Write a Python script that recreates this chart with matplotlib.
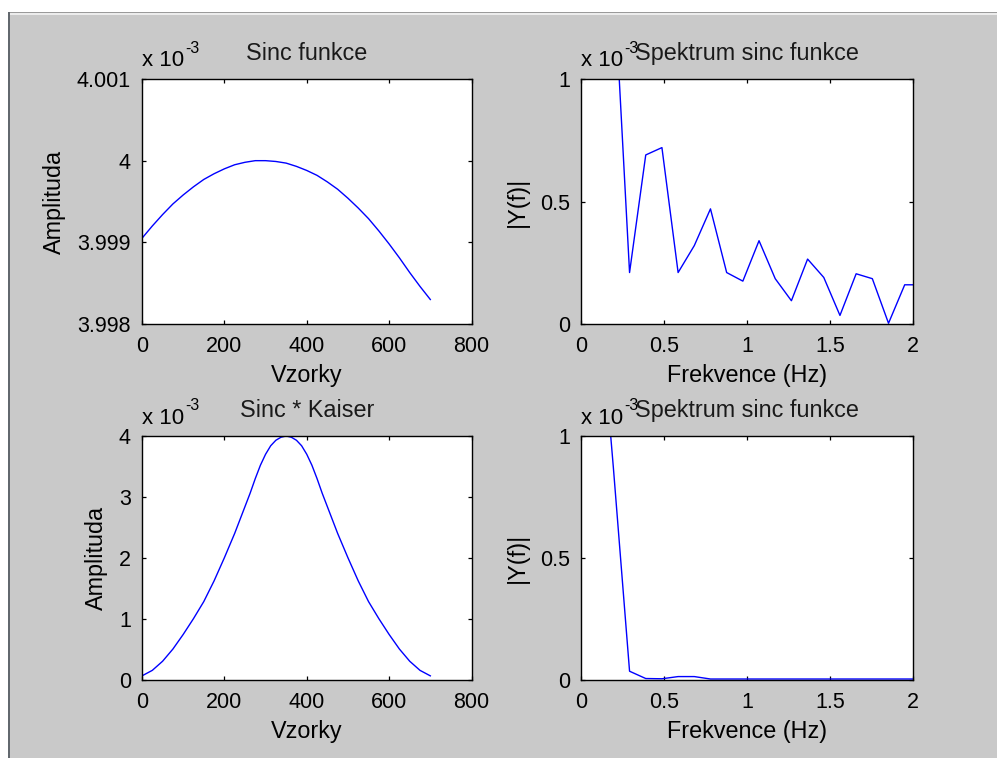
import matplotlib
matplotlib.use("Agg")
import matplotlib.pyplot as plt
from matplotlib.patches import Rectangle
from matplotlib.ticker import FixedLocator, FormatStrFormatter

plt.rcParams['font.family'] = ['Liberation Sans', 'DejaVu Sans']
plt.rcParams['mathtext.fontset'] = 'custom'
plt.rcParams['mathtext.rm'] = 'Liberation Sans'

# ---- data (amplitudes in units of 1e-3) ----
sinc_n = [0, 25, 50, 75, 100, 125, 150, 175, 200, 225, 250, 275, 300, 325, 350,
          375, 400, 425, 450, 475, 500, 525, 550, 575, 600, 625, 650, 675, 700]
sinc_amp = [3.99905, 3.99920, 3.99934, 3.99947, 3.99958, 3.99968, 3.99977, 3.99984,
            3.99990, 3.99995, 3.99998, 4.00000, 4.00000, 3.99999, 3.99997, 3.99993,
            3.99988, 3.99982, 3.99974, 3.99965, 3.99954, 3.99942, 3.99929, 3.99914,
            3.99898, 3.99881, 3.99863, 3.99846, 3.99830]

kaiser_n = [0, 25, 50, 75, 100, 125, 150, 175, 200, 225, 250, 262.5, 275, 287.5, 300,
            312.5, 325, 337.5, 350, 362.5, 375, 387.5, 400, 412.5, 425, 437.5, 450,
            475, 500, 525, 550, 575, 600, 625, 650, 675, 700]
kaiser_amp = [0.06, 0.15, 0.30, 0.50, 0.74, 1.00, 1.28, 1.62, 2.00, 2.40, 2.84, 3.06, 3.30,
              3.52, 3.70, 3.84, 3.93, 3.98, 4.00, 3.98, 3.93, 3.84, 3.70, 3.52, 3.30, 3.06,
              2.84, 2.40, 2.00, 1.62, 1.28, 1.00, 0.74, 0.50, 0.30, 0.15, 0.06]

freq = [0.0, 0.0975, 0.195, 0.2925, 0.39, 0.4875, 0.585, 0.6825, 0.78, 0.8775, 0.975,
        1.0725, 1.17, 1.2675, 1.365, 1.4625, 1.56, 1.6575, 1.755, 1.8525, 1.95, 2.0475]
spec_sinc = [3.2, 2.8, 1.45, 0.21, 0.69, 0.72, 0.21, 0.32, 0.47, 0.21, 0.175,
             0.34, 0.185, 0.095, 0.265, 0.19, 0.035, 0.205, 0.185, 0.003, 0.16, 0.16]
spec_kaiser = [2.4, 1.66, 0.87, 0.034, 0.004, 0.003, 0.012, 0.012, 0.002, 0.002, 0.002,
               0.002, 0.002, 0.002, 0.002, 0.002, 0.002, 0.002, 0.002, 0.002, 0.002, 0.002]

TICK_FS = 15.5
LABEL_FS = 16.8
W, H = 997, 758
BG = '#c9c9c9'
fig = plt.figure(figsize=(W / 100, H / 100), dpi=100, facecolor=BG)


# window frame around the figure area
def frame_rect(x0, y0, x1, y1, color):
    fig.patches.append(Rectangle((x0 / W, 1 - y1 / H), (x1 - x0) / W, (y1 - y0) / H,
                                 transform=fig.transFigure, facecolor=color,
                                 edgecolor='none', zorder=-10))


frame_rect(0, 0, W, 12.3, 'white')
frame_rect(0, 0, 8.3, H, 'white')
frame_rect(8.3, 12.3, W, 13.4, '#9a9a9a')
frame_rect(10.3, 13.4, W, 15.0, '#ececec')
frame_rect(8.3, 12.3, 10.3, H, '#62686e')


def make_axes(l, t, r, b):
    return fig.add_axes([l / W, 1 - b / H, (r - l) / W, (b - t) / H])


def style(ax, xlim, xticks, ylim, yticks, title, xlabel, ylabel):
    ax.set_xlim(*xlim)
    ax.set_ylim(*ylim)
    ax.xaxis.set_major_locator(FixedLocator(xticks))
    ax.yaxis.set_major_locator(FixedLocator(yticks))
    ax.xaxis.set_major_formatter(FormatStrFormatter('%g'))
    ax.yaxis.set_major_formatter(FormatStrFormatter('%g'))
    ax.tick_params(direction='in', length=3.0, width=0.9, top=True, right=True,
                   labelsize=TICK_FS, colors='black', pad=8)
    ax.tick_params(axis='x', pad=9)
    for s in ax.spines.values():
        s.set_linewidth(1.0)
        s.set_color('black')
    ax.set_title(title, fontsize=LABEL_FS, pad=13.5, color='#1a1a1a')
    ax.set_xlabel(xlabel, fontsize=LABEL_FS, labelpad=5)
    ax.set_ylabel(ylabel, fontsize=LABEL_FS, labelpad=8)
    # exponent marker above the y axis
    t1 = ax.annotate('x 10', xy=(0, 1), xycoords='axes fraction', xytext=(0, 9),
                     textcoords='offset points', ha='left', va='baseline', fontsize=16)
    fig.canvas.draw()
    w = t1.get_window_extent().width * 72 / fig.dpi
    ax.annotate('-3', xy=(0, 1), xycoords='axes fraction', xytext=(w + 1, 19),
                textcoords='offset points', ha='left', va='baseline', fontsize=11.5)


ax1 = make_axes(142, 79, 471.5, 324)
ax1.plot(sinc_n, sinc_amp, color='#0000ff', lw=1.0)
style(ax1, (0, 800), [0, 200, 400, 600, 800], (3.998, 4.001), [3.998, 3.999, 4.0, 4.001],
      'Sinc funkce', 'Vzorky', 'Amplituda')

ax2 = make_axes(581, 79, 913, 324)
ax2.plot(freq, spec_sinc, color='#0000ff', lw=1.0)
style(ax2, (0, 2), [0, 0.5, 1, 1.5, 2], (0, 1), [0, 0.5, 1],
      'Spektrum sinc funkce', 'Frekvence (Hz)', '|Y(f)|')

ax3 = make_axes(142, 436, 471.5, 679.5)
ax3.plot(kaiser_n, kaiser_amp, color='#0000ff', lw=1.0)
style(ax3, (0, 800), [0, 200, 400, 600, 800], (0, 4), [0, 1, 2, 3, 4],
      'Sinc * Kaiser', 'Vzorky', 'Amplituda')

ax4 = make_axes(581, 436, 913, 679.5)
ax4.plot(freq, spec_kaiser, color='#0000ff', lw=1.0)
style(ax4, (0, 2), [0, 0.5, 1, 1.5, 2], (0, 1), [0, 0.5, 1],
      'Spektrum sinc funkce', 'Frekvence (Hz)', '|Y(f)|')

fig.savefig('out.png', dpi=100, facecolor=BG)
